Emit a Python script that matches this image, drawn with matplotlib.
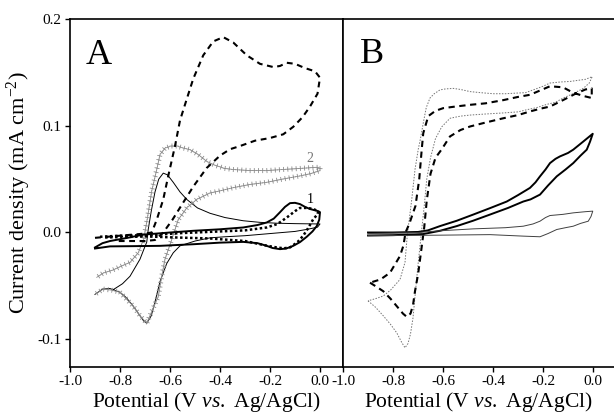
import matplotlib
matplotlib.use("Agg")
import matplotlib.pyplot as plt
from matplotlib import patheffects as pe

plt.rcParams['font.family'] = ['Liberation Serif', 'DejaVu Serif']
plt.rcParams['mathtext.fontset'] = 'custom'
plt.rcParams['mathtext.rm'] = 'Liberation Serif'
plt.rcParams['mathtext.it'] = 'Liberation Serif:italic'
plt.rcParams['axes.unicode_minus'] = False

# ---- panel A ----
# thick dashed CV
a_dash_x = [-0.90, -0.80, -0.70, -0.673, -0.653, -0.627, -0.607, -0.58, -0.56, -0.533, -0.507, -0.467,
            -0.427, -0.387, -0.347, -0.293, -0.24, -0.187, -0.16, -0.133, -0.10, -0.06, -0.02, 0.0,
            -0.01, -0.04, -0.07, -0.107, -0.147, -0.20, -0.26, -0.32, -0.36, -0.40, -0.453, -0.507,
            -0.55, -0.59, -0.627, -0.66, -0.70, -0.76, -0.815]
a_dash_y = [-0.005, -0.003, -0.001, 0.0, 0.012, 0.031, 0.053, 0.081, 0.105, 0.125, 0.144, 0.166,
            0.179, 0.183, 0.178, 0.166, 0.158, 0.155, 0.156, 0.159, 0.158, 0.154, 0.151, 0.145,
            0.130, 0.118, 0.108, 0.099, 0.092, 0.0885, 0.086, 0.081, 0.078, 0.072, 0.0605, 0.043,
            0.027, 0.012, 0.0, -0.007, -0.008, -0.008, -0.008]

# grey crosses CV (curve 2)
a_cross_x = [-0.893, -0.867, -0.827, -0.79, -0.76, -0.727, -0.705, -0.69, -0.673, -0.653, -0.64, -0.62,
             -0.595, -0.573, -0.545, -0.52, -0.487, -0.453, -0.42, -0.38, -0.347, -0.28, -0.213, -0.15,
             -0.08, -0.02, 0.0,
             0.0, -0.04, -0.08, -0.15, -0.213, -0.28, -0.347, -0.40, -0.44, -0.493, -0.533, -0.567,
             -0.595, -0.62, -0.633, -0.647, -0.673, -0.693, -0.72, -0.747, -0.80, -0.833, -0.867, -0.90]
a_cross_y = [-0.042, -0.038, -0.035, -0.031, -0.028, -0.019, -0.006, 0.014, 0.039, 0.059, 0.073, 0.079,
             0.081, 0.081, 0.079, 0.0776, 0.073, 0.0666, 0.063, 0.060, 0.059, 0.058, 0.058, 0.059,
             0.060, 0.061, 0.061,
             0.058, 0.055, 0.053, 0.050, 0.047, 0.045, 0.042, 0.039, 0.037, 0.031, 0.023, 0.012,
             -0.008, -0.025, -0.041, -0.060, -0.074, -0.085, -0.078, -0.069, -0.056, -0.054, -0.053, -0.058]

# thin solid CV
a_thin_x = [-0.83, -0.79, -0.76, -0.74, -0.72, -0.705, -0.693, -0.687, -0.675, -0.66, -0.645, -0.627,
            -0.61, -0.587, -0.56, -0.533, -0.49, -0.44, -0.38, -0.307, -0.24, -0.173, -0.10, -0.007, 0.0,
            -0.01, -0.05, -0.10, -0.20, -0.30, -0.38, -0.44, -0.50, -0.56, -0.587, -0.613, -0.64,
            -0.66, -0.675, -0.693, -0.705, -0.72, -0.747, -0.775, -0.80, -0.84, -0.87, -0.90]
a_thin_y = [-0.054, -0.048, -0.041, -0.033, -0.025, -0.016, -0.009, 0.003, 0.020, 0.038, 0.050, 0.0556,
            0.054, 0.047, 0.038, 0.031, 0.023, 0.018, 0.014, 0.011, 0.0095, 0.0087, 0.0083, 0.008, 0.008,
            0.005, 0.003, 0.001, -0.001, -0.003, -0.004, -0.005, -0.008, -0.0125, -0.019, -0.029, -0.046,
            -0.065, -0.078, -0.085, -0.083, -0.078, -0.069, -0.061, -0.056, -0.0525, -0.053, -0.058]

# thick solid CV (curve 1)
a_solid_x = [-0.90, -0.87, -0.84, -0.77, -0.707, -0.60, -0.507, -0.40, -0.307, -0.25, -0.213, -0.185,
             -0.16, -0.14, -0.12, -0.10, -0.08, -0.06, -0.04, -0.007, 0.0,
             -0.003, -0.013, -0.03, -0.053, -0.08, -0.107, -0.135, -0.16, -0.19, -0.213, -0.25, -0.307,
             -0.40, -0.507, -0.64, -0.75, -0.84, -0.90]
a_solid_y = [-0.014, -0.010, -0.008, -0.005, -0.002, 0.0, 0.0016, 0.003, 0.0047, 0.007, 0.0094, 0.013,
             0.019, 0.024, 0.0275, 0.0278, 0.0266, 0.024, 0.022, 0.020, 0.019,
             0.012, 0.006, 0.001, -0.004, -0.009, -0.0125, -0.015, -0.0156, -0.0145, -0.0125, -0.010, -0.0088,
             -0.0095, -0.011, -0.0125, -0.0128, -0.013, -0.015]

# thick dotted CV
a_dot_x = [-0.88, -0.80, -0.693, -0.55, -0.44, -0.30, -0.213, -0.17, -0.133, -0.10, -0.08, -0.05,
           -0.027, -0.007,
           -0.01, -0.027, -0.045, -0.067, -0.09, -0.12, -0.145, -0.173, -0.21, -0.24, -0.30, -0.44,
           -0.60, -0.693, -0.867]
a_dot_y = [-0.004, -0.003, -0.0025, -0.0005, 0.0006, 0.002, 0.0047, 0.008, 0.014, 0.020, 0.023, 0.023,
           0.022, 0.020,
           0.017, 0.0125, 0.005, -0.003, -0.009, -0.014, -0.0148, -0.014, -0.0125, -0.011, -0.008, -0.0056,
           -0.0045, -0.0037, -0.0047]

# ---- panel B ----
# thin grey dotted CV
b_dot_x = [-0.90, -0.87, -0.839, -0.81, -0.785, -0.765, -0.752, -0.74, -0.73, -0.72, -0.712, -0.699,
           -0.685, -0.675, -0.665, -0.65, -0.63, -0.605, -0.572, -0.53, -0.492, -0.43, -0.359, -0.30,
           -0.265, -0.225, -0.185, -0.15, -0.119, -0.08, -0.039, -0.015, -0.003,
           -0.03, -0.092, -0.13, -0.172, -0.20, -0.239, -0.27, -0.305, -0.35, -0.399, -0.45, -0.492,
           -0.53, -0.559, -0.59, -0.612, -0.635, -0.652, -0.667, -0.679, -0.69, -0.699, -0.712, -0.725,
           -0.735, -0.742, -0.752, -0.772, -0.81, -0.839, -0.87, -0.90]
b_dot_y = [-0.064, -0.070, -0.078, -0.086, -0.094, -0.103, -0.108, -0.104, -0.095, -0.080, -0.060, -0.028,
           0.003, 0.025, 0.050, 0.070, 0.088, 0.099, 0.107, 0.109, 0.110, 0.111, 0.112, 0.113,
           0.115, 0.117, 0.120, 0.122, 0.126, 0.130, 0.135, 0.140, 0.146,
           0.1435, 0.1415, 0.141, 0.140, 0.137, 0.1336, 0.131, 0.1306, 0.130, 0.130, 0.131, 0.132,
           0.134, 0.135, 0.1345, 0.1336, 0.130, 0.126, 0.117, 0.1025, 0.088, 0.078, 0.059, 0.031,
           0.012, 0.0, -0.028, -0.044, -0.054, -0.0595, -0.062, -0.064]

# thick dashed CV
b_dash_x = [-0.892, -0.865, -0.839, -0.81, -0.785, -0.76, -0.745, -0.73, -0.72, -0.712, -0.699, -0.685,
            -0.675, -0.665, -0.65, -0.63, -0.605, -0.572, -0.53, -0.492, -0.43, -0.359, -0.30, -0.252,
            -0.21, -0.172, -0.12, -0.07, -0.03, -0.005,
            -0.005, -0.04, -0.08, -0.12, -0.172, -0.252, -0.30, -0.359, -0.43, -0.492, -0.55, -0.599,
            -0.63, -0.659, -0.679, -0.685, -0.695, -0.71, -0.735, -0.75, -0.758, -0.772, -0.812, -0.85, -0.892]
b_dash_y = [-0.047, -0.051, -0.055, -0.062, -0.069, -0.076, -0.079, -0.076, -0.068, -0.055, -0.038, -0.013,
            0.005, 0.030, 0.055, 0.070, 0.078, 0.090, 0.096, 0.0993, 0.103, 0.107, 0.110, 0.1134,
            0.116, 0.118, 0.124, 0.130, 0.134, 0.135,
            0.126, 0.128, 0.131, 0.136, 0.137, 0.129, 0.127, 0.124, 0.121, 0.1196, 0.118, 0.1165,
            0.114, 0.109, 0.093, 0.078, 0.050, 0.025, 0.008, 0.0, -0.012, -0.022, -0.0377, -0.044, -0.047]

# thick solid CV
b_solid_x = [-0.90, -0.80, -0.70, -0.66, -0.612, -0.545, -0.479, -0.41, -0.345, -0.30, -0.252, -0.23,
             -0.212, -0.19, -0.172, -0.15, -0.132, -0.10, -0.079, -0.04, -0.001,
             -0.012, -0.025, -0.05, -0.079, -0.11, -0.145, -0.18, -0.212, -0.25, -0.279, -0.34, -0.412,
             -0.48, -0.545, -0.612, -0.68, -0.80, -0.90]
b_solid_y = [0.0, 0.0, 0.0005, 0.002, 0.006, 0.011, 0.0168, 0.023, 0.029, 0.035, 0.0418, 0.047,
             0.0526, 0.059, 0.065, 0.069, 0.0713, 0.0745, 0.0776, 0.085, 0.0925,
             0.085, 0.0776, 0.072, 0.065, 0.059, 0.0526, 0.044, 0.0355, 0.031, 0.029, 0.023, 0.0168,
             0.011, 0.006, 0.0016, -0.0015, -0.0025, -0.0028]

# thin solid CV
b_thin_x = [-0.90, -0.70, -0.612, -0.479, -0.35, -0.279, -0.24, -0.212, -0.19, -0.172, -0.12, -0.079,
            -0.03, -0.001,
            -0.008, -0.019, -0.05, -0.079, -0.11, -0.145, -0.18, -0.212, -0.279, -0.412, -0.612, -0.90]
b_thin_y = [-0.001, 0.0, 0.0016, 0.0034, 0.0045, 0.0059, 0.008, 0.0106, 0.014, 0.0159, 0.017, 0.0184,
            0.0195, 0.020,
            0.015, 0.0106, 0.0085, 0.0059, 0.0045, 0.0028, -0.001, -0.004, -0.0034, -0.002, -0.0025, -0.003]

xticks = [-1.0, -0.8, -0.6, -0.4, -0.2, 0.0]
yticks = [-0.1, 0.0, 0.1, 0.2]

fig = plt.figure(figsize=(6.14, 4.16), dpi=100)
axA = fig.add_axes([70 / 614, 49 / 416, 273 / 614, 348 / 416])
axB = fig.add_axes([343 / 614, 49 / 416, 271 / 614, 348 / 416])

# grey "+" symbols along curve 2
cross_fx = [pe.TickedStroke(spacing=3.0, length=0.5, angle=a) for a in (0, 90, 180, -90)]

axA.plot(a_thin_x, a_thin_y, color='black', lw=0.7)
axA.plot(a_cross_x, a_cross_y, color='0.55', lw=0.6, path_effects=cross_fx)
axA.plot(a_dash_x, a_dash_y, color='black', lw=1.5, linestyle=(0, (2.8, 2.2)))
axA.plot(a_dot_x, a_dot_y, color='black', lw=1.8, linestyle=(0, (1, 1)))
axA.plot(a_solid_x, a_solid_y, color='black', lw=1.4)
axA.text(-0.04, 0.069, '2', color='0.45', fontsize=10, ha='center', va='center')
axA.text(-0.04, 0.031, '1', color='black', fontsize=10, ha='center', va='center')
axA.text(-0.887, 0.166, 'A', fontsize=26, ha='center', va='center')

axB.plot(b_dot_x, b_dot_y, color='0.45', lw=0.7, linestyle=(0, (1.5, 1.5)))
axB.plot(b_dash_x, b_dash_y, color='black', lw=1.5, linestyle=(0, (3, 2.2)))
axB.plot(b_solid_x, b_solid_y, color='black', lw=1.4)
axB.plot(b_thin_x, b_thin_y, color='0.25', lw=0.7)
axB.text(-0.885, 0.167, 'B', fontsize=26, ha='center', va='center')

for ax, xmax in ((axA, 0.092), (axB, 0.084)):
    ax.set_xlim(-1.0, xmax)
    ax.set_ylim(-0.126, 0.2)
    ax.set_xticks(xticks)
    ax.set_yticks(yticks)
    ax.tick_params(direction='out', length=3.5, width=1, labelsize=11, pad=2.5)
    for s in ax.spines.values():
        s.set_linewidth(1.2)
    ax.set_xlabel(r'Potential (V $\mathit{vs.}$ Ag/AgCl)', fontsize=15.5, labelpad=1)

axB.spines['right'].set_visible(False)
axB.tick_params(axis='y', left=False, labelleft=False)
axA.set_ylabel(r'Current density (mA cm$^{-2}$)', fontsize=16, labelpad=3)

fig.savefig('out.png', dpi=100)
